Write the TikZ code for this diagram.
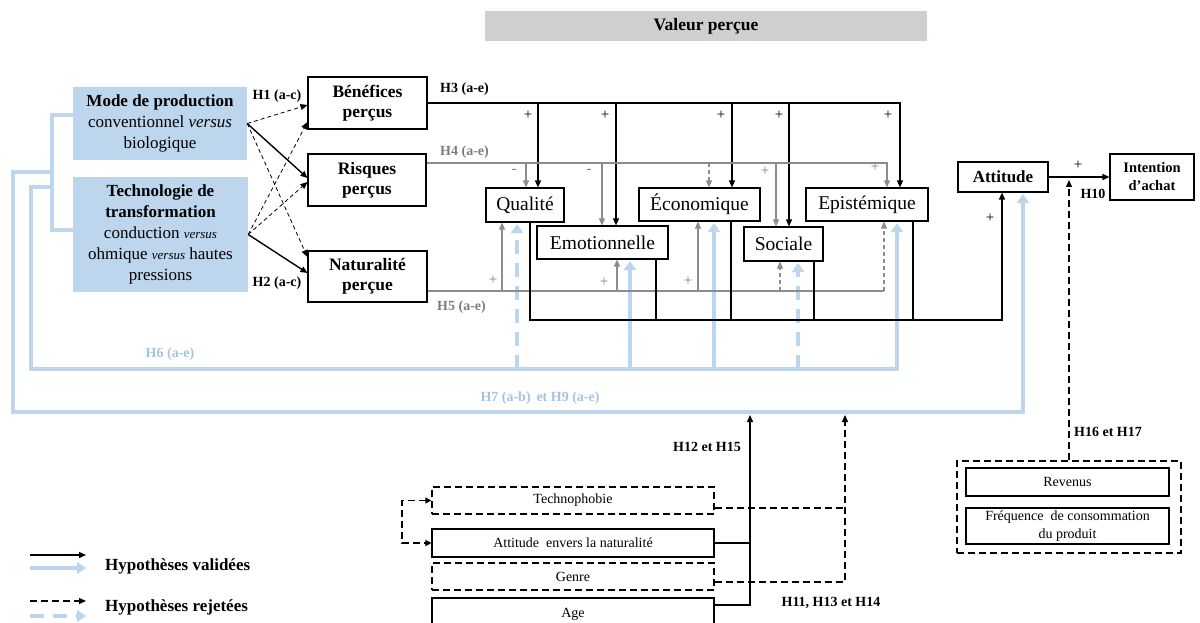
\documentclass[tikz,border=0pt]{standalone}
\usepackage{fontspec}
\setmainfont{Liberation Serif}
\usetikzlibrary{arrows.meta,calc}
\definecolor{lb}{RGB}{189,214,238}
\definecolor{lbtext}{RGB}{165,195,225}
\definecolor{gr}{RGB}{140,140,140}
\definecolor{grtext}{RGB}{125,125,125}
\definecolor{barfill}{RGB}{208,206,206}
\begin{document}
\begin{tikzpicture}[x=1pt,y=-1pt,
  wbox/.style={draw, line width=1.1pt, fill=white, inner sep=0pt, align=center},
  lbox/.style={fill=lb, inner sep=0pt, align=center, font=\fontsize{17}{21}\selectfont},
  hdr/.style={fill=barfill, inner sep=0pt, font=\fontsize{17.5}{20}\selectfont\bfseries},
  bbold/.style={wbox, font=\fontsize{17.5}{20}\selectfont\bfseries},
  vbox/.style={wbox, font=\fontsize{19.5}{22}\selectfont},
  sbox/.style={wbox, font=\fontsize{14}{18}\selectfont},
  dbox/.style={sbox, line width=1.3pt, dash pattern=on 7pt off 4pt},
  tip/.style={-{Triangle[length=7pt,width=6pt]}},
  blk/.style={line width=1.4pt, black},
  blkarr/.style={blk, tip},
  gry/.style={line width=1.2pt, gr},
  gryarr/.style={gry, -{Triangle[length=7pt,width=6pt]}},
  dsh/.style={dash pattern=on 4pt off 3pt},
  dasharr/.style={line width=0.8pt, black, dash pattern=on 4pt off 3pt, tip},
  dshB/.style={line width=1.3pt, black, dash pattern=on 7pt off 4pt},
  dasharrB/.style={dshB, tip},
  blu/.style={line width=4pt, lb},
  bluarr/.style={blu, -{Triangle[length=9pt,width=12pt]}},
  bludsh/.style={dash pattern=on 14pt off 9pt},
  hlab/.style={font=\fontsize{14}{16}\selectfont\bfseries, inner sep=0pt},
  sign/.style={font=\fontsize{15}{16}\selectfont, inner sep=0pt},
  leg/.style={font=\fontsize{17}{20}\selectfont\bfseries, inner sep=0pt, anchor=west}
]
\useasboundingbox (0,0) rectangle (1200,623);

% ---------- header ----------
\node[hdr, minimum width=442pt, minimum height=30pt] (valeur) at (706,26) {Valeur perçue};

% ---------- left blue boxes ----------
\node[lbox, minimum width=174pt, minimum height=73pt] (mode) at (160,123.5)
  {\textbf{Mode de production}\\conventionnel \textit{versus}\\biologique};
\node[lbox, minimum width=175pt, minimum height=115pt] (techno) at (160.5,234.5)
  {\textbf{Technologie de}\\\textbf{transformation}\\conduction {\fontsize{13}{21}\selectfont\itshape versus}\\ohmique {\fontsize{13}{21}\selectfont\itshape versus} hautes\\pressions};

% ---------- blue feedback lines (behind) ----------
\draw[blu] ($(mode.west)+(0,-8.5)$) -- (52,115) -- (52,230) -- ($(techno.west)+(0,-4.5)$);
\draw[bluarr] (52,172) -- (13,172) -- (13,412) -- (1023,412) -- (1023,194);
\draw[bluarr] (52,187) -- (31,187) -- (31,369) -- (897,369) -- (897,223);
\draw[bluarr, bludsh] (517,369) -- (517,224);
\draw[bluarr] (630,369) -- (630,261);
\draw[bluarr] (714,369) -- (714,223);
\draw[bluarr, bludsh] (798,369) -- (798,263);

% ---------- perceived nodes ----------
\node[bbold, minimum width=119pt, minimum height=52pt] (ben) at (367.5,103) {Bénéfices\\perçus};
\node[bbold, minimum width=118pt, minimum height=52pt] (ris) at (367,180) {Risques\\perçus};
\node[bbold, minimum width=119pt, minimum height=51pt] (nat) at (367.5,276.5) {Naturalité\\perçue};

% ---------- value nodes ----------
\node[vbox, minimum width=78pt, minimum height=34pt] (qual) at (525,205) {Qualité};
\node[vbox, minimum width=131pt, minimum height=33pt] (emo) at (602.5,242.5) {Emotionnelle};
\node[vbox, minimum width=121pt, minimum height=33pt] (eco) at (699.5,204.5) {Économique};
\node[vbox, minimum width=79pt, minimum height=34pt] (soc) at (783.5,244) {Sociale};
\node[vbox, minimum width=122pt, minimum height=33pt] (epi) at (867,204.5) {Epistémique};

% ---------- attitude / intention ----------
\node[wbox, font=\fontsize{17}{20}\selectfont\bfseries, minimum width=90pt, minimum height=30pt] (att) at (1003,177) {Attitude};
\node[wbox, font=\fontsize{14.5}{18}\selectfont\bfseries, minimum width=84pt, minimum height=46pt] (int) at (1152,177) {Intention\\d’achat};

% ---------- H1 / H2 ----------
\draw[dasharr] (mode.east) -- ($(ben.west)+(0,2)$);
\draw[blkarr] (mode.east) -- ($(ris.west)+(0,-2)$);
\draw[dasharr] (mode.east) -- ($(nat.west)+(0,-19.5)$);
\draw[dasharr] (techno.east) -- ($(ben.west)+(0,19)$);
\draw[dasharr] (techno.east) -- ($(ris.west)+(0,2)$);
\draw[blkarr] (techno.east) -- ($(nat.west)+(0,-3.5)$);
\node[hlab] (h1) at (277,96) {H1 (a-c)};
\node[hlab] (h2) at (277,283) {H2 (a-c)};

% ---------- H3 ----------
\draw[blkarr] (ben.east) -- (900,103) -- (epi.north -| 900,0);
\draw[blkarr] (538,103) -- (qual.north -| 538,0);
\draw[blkarr] (616,103) -- (emo.north -| 616,0);
\draw[blkarr] (732,103) -- (eco.north -| 732,0);
\draw[blkarr] (789,103) -- (soc.north -| 789,0);
\node[hlab, anchor=west] (h3) at (440,89) {H3 (a-e)};
\node[sign] (s1) at (528,115) {+};
\node[sign] (s2) at (605,115) {+};
\node[sign] (s3) at (721,115) {+};
\node[sign] (s4) at (779,115) {+};
\node[sign] (s5) at (888,115) {+};

% ---------- H4 ----------
\draw[gryarr] ($(ris.east)+(0,-17)$) -- (887,163) -- (epi.north -| 887,0);
\draw[gryarr] (526,163) -- (qual.north -| 526,0);
\draw[gryarr] (602,163) -- (emo.north -| 602,0);
\draw[gryarr, dsh] (709,163) -- (eco.north -| 709,0);
\draw[gryarr] (776,163) -- (soc.north -| 776,0);
\node[hlab, text=grtext, anchor=west] (h4) at (440,152) {H4 (a-e)};
\node[sign, text=grtext] (m1) at (514,171) {-};
\node[sign, text=grtext] (m2) at (589,171) {-};
\node[sign, text=grtext] (s6) at (765,171) {+};
\node[sign, text=grtext] (s7) at (875,167) {+};

% ---------- H5 ----------
\draw[gry] ($(nat.east)+(0,14.5)$) -- (884,291);
\draw[gryarr, dsh] (884,291) -- (epi.south -| 884,0);
\draw[gryarr] (502,291) -- (qual.south -| 502,0);
\draw[gryarr] (617,291) -- (emo.south -| 617,0);
\draw[gryarr] (698,291) -- (eco.south -| 698,0);
\draw[gryarr, dsh] (780,291) -- (soc.south -| 780,0);
\node[hlab, text=grtext, anchor=west] (h5) at (437,307) {H5 (a-e)};
\node[sign, text=grtext] (s8) at (493,280) {+};
\node[sign, text=grtext] (s9) at (604,282) {+};
\node[sign, text=grtext] (s10) at (688,281) {+};

% ---------- collector to attitude ----------
\draw[blkarr] (qual.south -| 530,0) |- (1002,320) -- (att.south -| 1002,0);
\draw[blk] (emo.south -| 656,0) -- (656,320);
\draw[blk] (eco.south -| 731,0) -- (731,320);
\draw[blk] (soc.south -| 814,0) -- (814,320);
\draw[blk] (epi.south -| 913,0) -- (913,320);
\node[sign] (s11) at (990,218) {+};

% ---------- attitude -> intention ----------
\draw[blkarr] (att.east) -- (int.west);
\node[sign] (s12) at (1078,165) {+};
\node[hlab] (h10) at (1093,194) {H10};

% ---------- blue labels ----------
\node[hlab, text=lbtext] (h6) at (170,354) {H6 (a-e)};
\node[hlab, text=lbtext] (h7) at (540,398) {H7 (a-b)\, et H9 (a-e)};

% ---------- moderators (bottom) ----------
\node[dbox, minimum width=282pt, minimum height=27pt] (technob) at (573,500.5) {Technophobie};
\node[sbox, minimum width=282pt, minimum height=28pt] (attn) at (573,543) {Attitude\ \ envers la naturalité};
\node[dbox, minimum width=282pt, minimum height=27pt] (genre) at (573,576.5) {Genre};
\node[sbox, minimum width=282pt, minimum height=32pt] (age) at (573,614) {Age};

\draw[dshB, {Triangle[length=6pt,width=6pt]}-{Triangle[length=6pt,width=6pt]}] (technob.west) -- (402,500.5) |- (attn.west);
\draw[blk] (attn.east) -- (750,543);
\draw[blkarr] ($(age.east)+(0,-9)$) -| (750,415);
\draw[dshB] ($(technob.east)+(0,7.5)$) -- (845,508);
\draw[dasharrB] ($(genre.east)+(0,5.5)$) -| (845,415);
\node[hlab] (h12) at (707,447) {H12 et H15};
\node[hlab] (h11) at (831,603) {H11, H13 et H14};

% ---------- income / frequency ----------
\node[draw, line width=1.3pt, dash pattern=on 7pt off 4pt, minimum width=224pt, minimum height=92pt, inner sep=0pt] (grp) at (1069,507) {};
\node[sbox, minimum width=203pt, minimum height=28pt] (rev) at (1067.5,482) {Revenus};
\node[sbox, minimum width=203pt, minimum height=36pt] (freq) at (1067.5,526) {Fréquence\ \ de consommation\\du produit};
\draw[dasharrB] (grp.north) -- (1069,180);
\node[hlab] (h16) at (1108,432) {H16 et H17};

% ---------- legend ----------
\draw[blkarr] (30,555) -- (86,555);
\draw[bluarr] (30,568) -- (86,568);
\node[leg] (lv) at (105,566) {Hypothèses validées};
\draw[dasharrB] (30,601) -- (86,601);
\draw[bluarr, bludsh] (30,616) -- (86,616);
\node[leg] (lr) at (105,607) {Hypothèses rejetées};
\end{tikzpicture}
\end{document}
